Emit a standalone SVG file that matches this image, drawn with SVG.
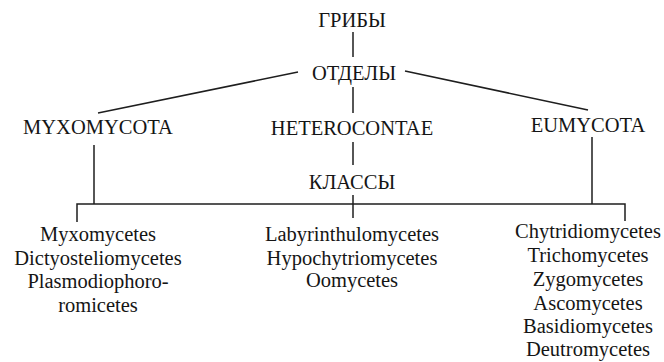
<svg xmlns="http://www.w3.org/2000/svg" width="664" height="362" viewBox="0 0 664 362" font-family="Liberation Serif, DejaVu Serif, serif" font-size="20.5" text-anchor="middle">
<style>
text{font-family:"Liberation Serif","DejaVu Serif",serif;fill:#151515}
.c{stroke:#1e1e1e;stroke-width:1.5;fill:none}
</style>
<rect width="664" height="362" fill="#fff"/>
<g id="connectors">
<line class="c" x1="353" y1="32" x2="353" y2="57"/>
<line class="c" x1="298" y1="72" x2="98" y2="113"/>
<line class="c" x1="405" y1="71" x2="588" y2="110"/>
<line class="c" x1="353" y1="87" x2="353" y2="113"/>
<line class="c" x1="353" y1="142" x2="353" y2="165"/>
<line class="c" x1="353" y1="195" x2="353" y2="218"/>
<line class="c" x1="94" y1="145" x2="94" y2="204"/>
<line class="c" x1="592" y1="137" x2="592" y2="204"/>
<polyline class="c" points="77,222 77,204 625,204 625,221"/>
</g>
<g id="griby"><text x="352" y="27">ГРИБЫ</text></g>
<g id="otdely"><text x="354" y="80">ОТДЕЛЫ</text></g>
<g id="myxomycota"><text x="98" y="134">MYXOMYCOTA</text></g>
<g id="heterocontae"><text x="352" y="135">HETEROCONTAE</text></g>
<g id="eumycota"><text x="588" y="132">EUMYCOTA</text></g>
<g id="klassy"><text x="352" y="189">КЛАССЫ</text></g>
<g id="myxo-classes">
<text x="98" y="241">Myxomycetes</text>
<text x="98" y="265">Dictyosteliomycetes</text>
<text x="98" y="288">Plasmodiophoro-</text>
<text x="98" y="312">romicetes</text>
</g>
<g id="hetero-classes">
<text x="352" y="241">Labyrinthulomycetes</text>
<text x="352" y="265">Hypochytriomycetes</text>
<text x="352" y="287">Oomycetes</text>
</g>
<g id="eu-classes">
<text x="588" y="238">Chytridiomycetes</text>
<text x="588" y="262">Trichomycetes</text>
<text x="588" y="286">Zygomycetes</text>
<text x="588" y="310">Ascomycetes</text>
<text x="588" y="333">Basidiomycetes</text>
<text x="588" y="356">Deutromycetes</text>
</g>
</svg>
